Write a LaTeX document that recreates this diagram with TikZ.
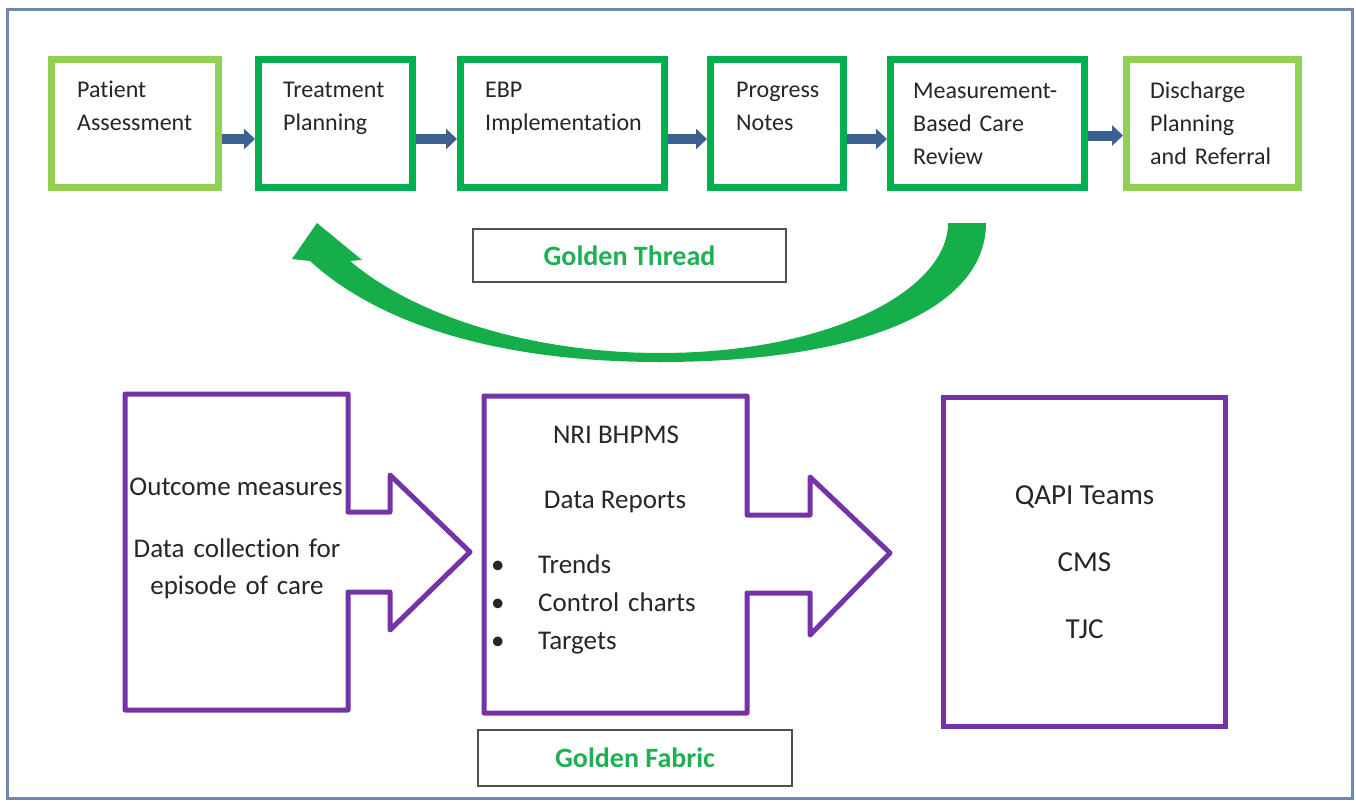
\documentclass[tikz,border=0pt]{standalone}
\usepackage{fontspec}
\setmainfont{Carlito}[Ligatures={NoCommon}]
\usetikzlibrary{arrows.meta,calc}
\definecolor{lgreen}{RGB}{146,208,80}
\definecolor{dgreen}{RGB}{0,176,80}
\definecolor{arrowblue}{RGB}{60,96,145}
\definecolor{frameblue}{RGB}{112,136,174}
\definecolor{purp}{RGB}{116,52,168}
\definecolor{goldtxt}{RGB}{30,176,84}
\definecolor{txt}{RGB}{38,38,38}
\definecolor{bigarrow}{RGB}{22,174,74}
\definecolor{labelgray}{RGB}{80,80,80}
\begin{document}
\begin{tikzpicture}[x=1pt,y=-1pt,
  topbox/.style={draw, line width=7pt, minimum height=128pt, inner sep=0pt, fill=white},
  lightbox/.style={topbox, draw=lgreen},
  darkbox/.style={topbox, draw=dgreen},
  toptext/.style={anchor=base west, align=left, text width=190pt, inner sep=0pt, font=\fontsize{24}{33}\selectfont, text=txt},
  flow/.style={draw=arrowblue, line width=10pt, -{Triangle[width=20pt,length=11pt]}},
  labelbox/.style={draw=labelgray, line width=2pt, inner sep=0pt, fill=white, font=\bfseries\fontsize{28}{34}\selectfont, text=goldtxt},
  purpshape/.style={draw=purp, line width=5pt, line join=round},
  btext/.style={inner sep=0pt, text=txt, font=\fontsize{27}{37}\selectfont},
  rtext/.style={inner sep=0pt, text=txt, font=\fontsize{29}{67}\selectfont}
]
\useasboundingbox (0,0) rectangle (1356,800);
\fill[white] (0,0) rectangle (1356,800);
\draw[frameblue, line width=3pt] (7,10) rectangle (1352,798);

% top row
\node[lightbox, minimum width=167pt] (b1) at (135,123.5) {};
\node[darkbox,  minimum width=154pt] (b2) at (335.5,123.5) {};
\node[darkbox,  minimum width=204pt] (b3) at (562.5,123.5) {};
\node[darkbox,  minimum width=133pt] (b4) at (777,123.5) {};
\node[darkbox,  minimum width=194pt] (b5) at (987.5,123.5) {};
\node[lightbox, minimum width=172pt] (b6) at (1212.5,123.5) {};

\node[toptext] (t1) at ($(b1.north west)+(29,41)$) {Patient\\Assessment};
\node[toptext] (t2) at ($(b2.north west)+(28,41)$) {Treatment\\Planning};
\node[toptext] (t3) at ($(b3.north west)+(28,41)$) {EBP\\Implementation};
\node[toptext] (t4) at ($(b4.north west)+(29,41)$) {Progress\\Notes};
\node[toptext] (t5) at ($(b5.north west)+(26,42)$) {Measurement-\\Based Care\\Review};
\node[toptext] (t6) at ($(b6.north west)+(27,42)$) {Discharge\\Planning\\and Referral};

\draw[flow] ([yshift=-15.5pt]b1.east) -- ([yshift=-15.5pt]b2.west);
\draw[flow] ([yshift=-15.5pt]b2.east) -- ([yshift=-15.5pt]b3.west);
\draw[flow] ([yshift=-15.5pt]b3.east) -- ([yshift=-15.5pt]b4.west);
\draw[flow] ([yshift=-15.5pt]b4.east) -- ([yshift=-15.5pt]b5.west);
\draw[flow] ([yshift=-12pt]b5.east) -- ([yshift=-12pt]b6.west);

% golden thread curved arrow
\fill[bigarrow] (986,223) .. controls (986,310) and (860,362) .. (660,362)
  .. controls (500,362) and (380,325) .. (310,261)
  -- (292,259) -- (317,223) -- (362,260) -- (350,261)
  .. controls (420,320) and (540,353) .. (660,353)
  .. controls (830,353) and (948,290) .. (948,223) -- cycle;

\node[labelbox, minimum width=313pt, minimum height=53pt] (gt) at (629.5,255.5) {Golden Thread};

% bottom shapes
\draw[purpshape] (125,394) -- (348,394) -- (348,512) -- (390,512) -- (390,475) -- (470,552)
  -- (390,630) -- (390,592) -- (348,592) -- (348,710) -- (125,710) -- cycle;
\coordinate (lefttip) at (470,552);
\node[btext, anchor=base] (om) at (236,495) {Outcome measures};
\node[btext, anchor=base, align=center, text width=240pt] (dc) at (237,557) {Data collection for\\episode of care};

\draw[purpshape] (484,396) -- (747,396) -- (747,515) -- (810,515) -- (810,477) -- (890,553)
  -- (810,635) -- (810,593) -- (747,593) -- (747,713) -- (484,713) -- cycle;
\coordinate (midtip) at (890,553);
\node[btext, anchor=base] (nri) at (616,443) {NRI BHPMS};
\node[btext, anchor=base] (dr) at (615,508) {Data Reports};
\node[btext, anchor=base west, align=left, text width=250pt, font=\fontsize{27}{38}\selectfont] (lst) at (491,573)
  {\makebox[47pt][l]{\textbullet}Trends\\\makebox[47pt][l]{\textbullet}Control charts\\\makebox[47pt][l]{\textbullet}Targets};

\node[draw=purp, line width=5pt, minimum width=282pt, minimum height=329pt, inner sep=0pt, align=center, rtext] (rb) at (1084.5,562) {QAPI Teams\\CMS\\TJC};

\node[labelbox, minimum width=314pt, minimum height=56pt] (gf) at (635,758) {Golden Fabric};
\end{tikzpicture}
\end{document}
